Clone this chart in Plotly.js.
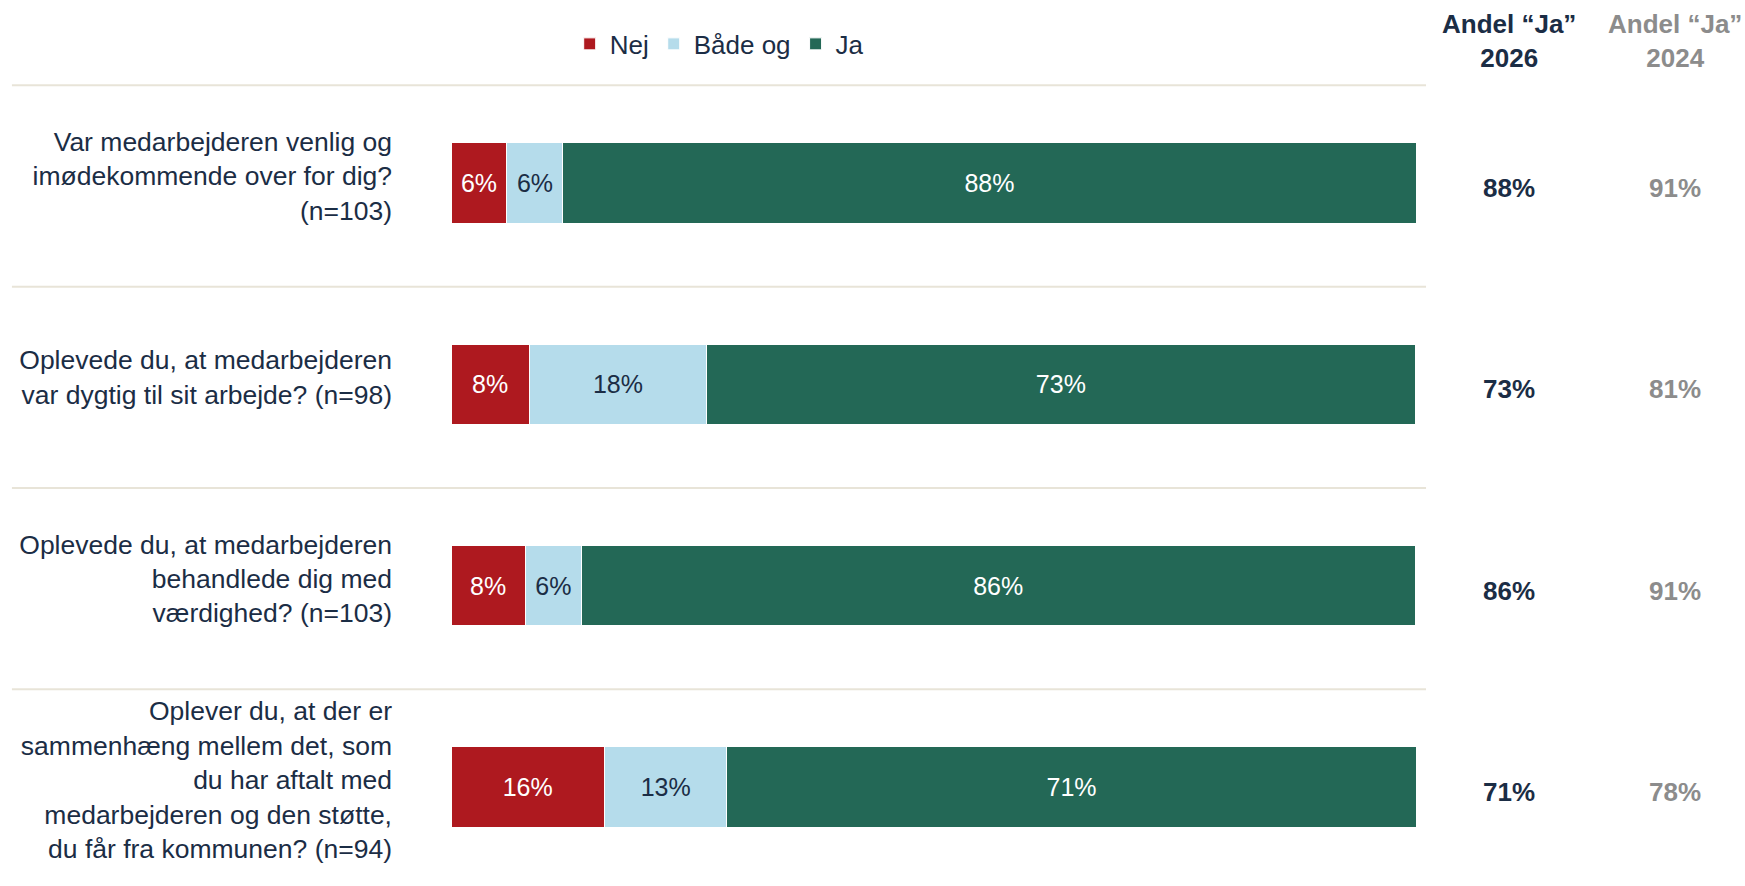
<!DOCTYPE html>
<html>
<head>
<meta charset="utf-8">
<script src="https://cdn.plot.ly/plotly-3.0.1.min.js"></script>
<style>html,body{margin:0;padding:0;background:#fff;}#chart{width:1745px;height:886px;}</style>
</head>
<body>
<div id="chart"></div>
<script>
// ---- data ----
const questions = [
  "Var medarbejderen venlig og<br>imødekommende over for dig?<br>(n=103)",
  "Oplevede du, at medarbejderen<br>var dygtig til sit arbejde? (n=98)",
  "Oplevede du, at medarbejderen<br>behandlede dig med<br>værdighed? (n=103)",
  "Oplever du, at der er<br>sammenhæng mellem det, som<br>du har aftalt med<br>medarbejderen og den støtte,<br>du får fra kommunen? (n=94)"
];
const nej   = [5.8, 8.1, 7.7, 15.9];
const baade = [5.8, 18.4, 5.8, 12.7];
const ja    = [88.4, 73.4, 86.4, 71.4];
const andelJa2026 = [88, 73, 86, 71];
const andelJa2024 = [91, 81, 91, 78];
const header2026 = "Andel “Ja”<br>2026";
const header2024 = "Andel “Ja”<br>2024";
const seriesNames = ["Nej", "Både og", "Ja"];

const FONT = "Liberation Sans, Arial, sans-serif";
const NAVY = "#1B2D45";
const GREY = "#8C8C8C";
const idx = questions.map((q, i) => i);

function barTrace(name, vals, color, textColor) {
  return {
    type: "bar", orientation: "h", name: name,
    x: vals, y: idx, width: 0.4,
    marker: {color: color, line: {color: "#ffffff", width: 1}},
    texttemplate: "%{x:.0f}%", textposition: "inside", insidetextanchor: "middle",
    textfont: {family: FONT, size: 25, color: textColor},
    constraintext: "none", cliponaxis: false,
    hoverinfo: "skip"
  };
}

const data = [
  barTrace(seriesNames[0], nej, "#AE191F", "#ffffff"),
  barTrace(seriesNames[1], baade, "#B5DCEB", NAVY),
  barTrace(seriesNames[2], ja, "#236856", "#ffffff")
];

const shapes = idx.map(i => ({
  type: "line", xref: "paper", yref: "y",
  x0: -0.455, x1: 1.0104, y0: i - 0.485, y1: i - 0.485,
  line: {color: "#E8E4D8", width: 2}
}));

const annotations = [];
idx.forEach(i => {
  annotations.push({xref: "paper", yref: "y", x: 1.0964, y: i, text: andelJa2026[i] + "%",
    showarrow: false, xanchor: "center", yanchor: "middle", yshift: -5,
    font: {family: FONT, size: 26, color: NAVY, weight: "bold"}});
  annotations.push({xref: "paper", yref: "y", x: 1.2684, y: i, text: andelJa2024[i] + "%",
    showarrow: false, xanchor: "center", yanchor: "middle", yshift: -5,
    font: {family: FONT, size: 26, color: GREY, weight: "bold"}});
});
annotations.push({xref: "paper", yref: "paper", x: 1.0964, y: 1.0484, text: "<b>" + header2026 + "</b>",
  showarrow: false, xanchor: "center", yanchor: "middle",
  font: {family: FONT, size: 26, color: NAVY}});
annotations.push({xref: "paper", yref: "paper", x: 1.2684, y: 1.0484, text: "<b>" + header2024 + "</b>",
  showarrow: false, xanchor: "center", yanchor: "middle",
  font: {family: FONT, size: 26, color: GREY}});

const layout = {
  width: 1745, height: 886,
  margin: {l: 451, r: 329, t: 80, b: 0, pad: 0},
  paper_bgcolor: "#ffffff", plot_bgcolor: "#ffffff",
  barmode: "stack",
  font: {family: FONT, color: NAVY},
  showlegend: true,
  legend: {orientation: "h", x: 0.123, xanchor: "left", y: 1.0447, yanchor: "middle",
    font: {family: FONT, size: 26, color: NAVY}, itemclick: false, traceorder: "normal"},
  xaxis: {range: [0, 100], showgrid: false, zeroline: false, showticklabels: false, showline: false, fixedrange: true},
  yaxis: {range: [3.4917, -0.5116], tickmode: "array", tickvals: idx, ticktext: questions,
    showgrid: false, zeroline: false, showline: false, ticks: "",
    ticklabelstandoff: 58, ticklabelshift: 7,
    tickfont: {family: FONT, size: 26.5, color: NAVY}, fixedrange: true},
  shapes: shapes,
  annotations: annotations
};

Plotly.newPlot("chart", data, layout, {displayModeBar: false, staticPlot: true});
</script>
</body>
</html>
